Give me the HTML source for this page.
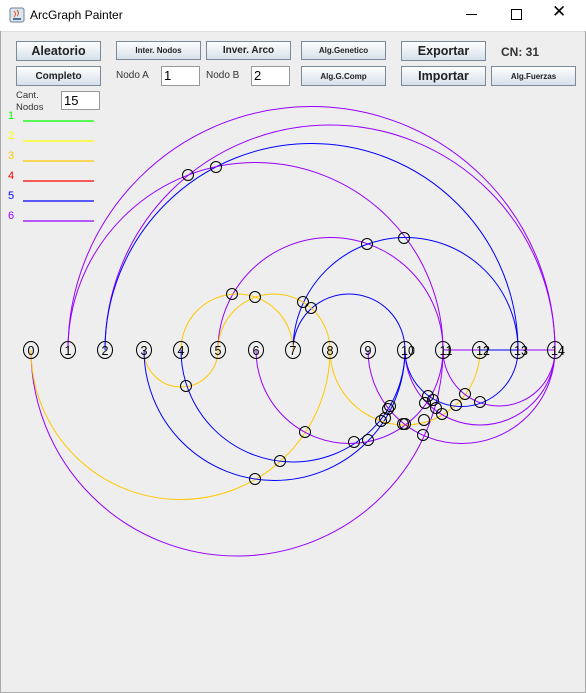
<!DOCTYPE html>
<html><head><style>
body{margin:0;width:586px;height:693px;overflow:hidden;background:#eeeeee;font-family:"Liberation Sans",sans-serif;position:relative}
.tb{position:absolute;left:0;top:0;width:586px;height:31px;background:#fff;border-bottom:1px solid #ddd}
.btn{position:absolute;height:18px;border:1px solid #7a8a99;background:linear-gradient(#fdfeff,#d6e0ea);font-weight:bold;font-size:8px;color:#222;display:flex;align-items:center;justify-content:center;box-sizing:border-box}
.big{font-size:12.5px}
.inp{position:absolute;background:#fff;border:1px solid #999;font-size:13px;box-sizing:border-box;padding-left:2px;line-height:17px}
.lbl{position:absolute;font-size:10px;color:#333}
.lg{position:absolute;font-size:11px}
</style></head><body>
<div class="tb">
<svg style="position:absolute;left:9px;top:7px" width="16" height="16"><rect x="1" y="1" width="14" height="14" rx="2" fill="#dde6ee" stroke="#6b7f96"/><path d="M5 4 q3 3 0 6 M8 3 q3 3 0 6" stroke="#d05a20" fill="none"/><rect x="4" y="11" width="8" height="2" fill="#4a6fa0"/></svg>
<div style="position:absolute;left:30px;top:8px;font-size:12px;color:#000">ArcGraph Painter</div>
<div style="position:absolute;left:466px;top:14px;width:11px;height:1px;background:#000"></div>
<div style="position:absolute;left:511px;top:9px;width:9px;height:9px;border:1px solid #000"></div>
<div style="position:absolute;left:552px;top:2px;font-size:17px;color:#000">✕</div>
</div>
<div style="position:absolute;left:0;top:31px;width:1px;height:662px;background:#aaa"></div>
<div style="position:absolute;left:585px;top:31px;width:1px;height:662px;background:#aaa"></div>
<div style="position:absolute;left:0;top:692px;width:586px;height:1px;background:#aaa"></div>

<div class="btn big" style="left:16px;top:41px;width:85px;height:20px">Aleatorio</div>
<div class="btn" style="left:116px;top:41px;width:85px;height:19px">Inter. Nodos</div>
<div class="btn" style="left:206px;top:41px;width:85px;height:19px;font-size:10px">Inver. Arco</div>
<div class="btn" style="left:301px;top:41px;width:85px;height:19px">Alg.Genetico</div>
<div class="btn big" style="left:401px;top:41px;width:85px;height:20px">Exportar</div>
<div style="position:absolute;left:501px;top:45px;font-size:12px;font-weight:bold;color:#333">CN: 31</div>
<div class="btn" style="left:16px;top:66px;width:85px;height:20px;font-size:10px">Completo</div>
<div class="lbl" style="left:116px;top:70px">Nodo A</div>
<div class="inp" style="left:161px;top:66px;width:39px;height:20px">1</div>
<div class="lbl" style="left:206px;top:70px">Nodo B</div>
<div class="inp" style="left:251px;top:66px;width:39px;height:20px">2</div>
<div class="btn" style="left:301px;top:66px;width:85px;height:20px">Alg.G.Comp</div>
<div class="btn big" style="left:401px;top:66px;width:85px;height:20px">Importar</div>
<div class="btn" style="left:491px;top:66px;width:85px;height:20px">Alg.Fuerzas</div>
<div class="lbl" style="left:16px;top:90px;font-size:9.5px;line-height:12px">Cant.<br>Nodos</div>
<div class="inp" style="left:61px;top:91px;width:39px;height:19px">15</div>

<div class="lg" style="left:8px;top:110px;color:#00ff00">1</div>
<div class="lg" style="left:8px;top:130px;color:#ffff00">2</div>
<div class="lg" style="left:8px;top:150px;color:#ffc800">3</div>
<div class="lg" style="left:8px;top:170px;color:#ff0000">4</div>
<div class="lg" style="left:8px;top:190px;color:#0000ff">5</div>
<div class="lg" style="left:8px;top:210px;color:#9600ff">6</div>

<svg style="position:absolute;left:0;top:0" width="586" height="693">
<g stroke-width="1.3">
<line x1="23" y1="121" x2="94" y2="121" stroke="#00ff00"/>
<line x1="23" y1="141" x2="94" y2="141" stroke="#ffff00"/>
<line x1="23" y1="161" x2="94" y2="161" stroke="#ffc800"/>
<line x1="23" y1="181" x2="94" y2="181" stroke="#ff0000"/>
<line x1="23" y1="201" x2="94" y2="201" stroke="#0000ff"/>
<line x1="23" y1="221" x2="94" y2="221" stroke="#9600ff"/>
</g>
<g fill="none" stroke-width="1">
<path d="M68 350 A243.5 243.5 0 0 1 555 350" stroke="#9600ff"/>
<path d="M105 350 A225 225 0 0 1 555 350" stroke="#9600ff"/>
<path d="M105 350 A206.5 206.5 0 0 1 518 350" stroke="#0000ff"/>
<path d="M68 350 A187.5 187.5 0 0 1 443 350" stroke="#9600ff"/>
<path d="M218 350 A112.5 112.5 0 0 1 443 350" stroke="#9600ff"/>
<path d="M293 350 A112.5 112.5 0 0 1 518 350" stroke="#0000ff"/>
<path d="M293 350 A56 56 0 0 1 405 350" stroke="#0000ff"/>
<path d="M181 350 A56 56 0 0 1 293 350" stroke="#ffc800"/>
<path d="M218 350 A56 56 0 0 1 330 350" stroke="#ffc800"/>
<line x1="443" y1="350" x2="555" y2="350" stroke="#9600ff"/>
<line x1="480" y1="350" x2="518" y2="350" stroke="#0000ff"/>
<path d="M144 350 A37 37 0 0 0 218 350" stroke="#ffc800"/>
<path d="M31 350 A206 206 0 0 0 443 350" stroke="#9600ff"/>
<path d="M31 350 A149.5 149.5 0 0 0 330 350" stroke="#ffc800"/>
<path d="M144 350 A130.5 130.5 0 0 0 405 350" stroke="#0000ff"/>
<path d="M181 350 A112 112 0 0 0 405 350" stroke="#0000ff"/>
<path d="M256 350 A93.5 93.5 0 0 0 443 350" stroke="#9600ff"/>
<path d="M330 350 A75 75 0 0 0 480 350" stroke="#ffc800"/>
<path d="M368 350 A93.5 93.5 0 0 0 555 350" stroke="#9600ff"/>
<path d="M405 350 A75 75 0 0 0 555 350" stroke="#9600ff"/>
<path d="M443 350 A56 56 0 0 0 555 350" stroke="#9600ff"/>
<path d="M405 350 A56.5 56.5 0 0 0 518 350" stroke="#0000ff"/>
</g>
<g fill="none" stroke="#000" stroke-width="1">
<circle cx="188" cy="175" r="5.5"/><circle cx="216" cy="167" r="5.5"/>
<circle cx="367" cy="244" r="5.5"/><circle cx="404" cy="238" r="5.5"/>
<circle cx="232" cy="294" r="5.5"/><circle cx="255" cy="297" r="5.5"/>
<circle cx="303" cy="302" r="5.5"/><circle cx="311" cy="308" r="5.5"/>
<circle cx="186" cy="386" r="5.5"/><circle cx="305" cy="432" r="5.5"/>
<circle cx="280" cy="461" r="5.5"/><circle cx="255" cy="479" r="5.5"/>
<circle cx="354" cy="442" r="5.5"/><circle cx="368" cy="440" r="5.5"/>
<circle cx="381" cy="421" r="5.5"/><circle cx="385" cy="418" r="5.5"/>
<circle cx="388" cy="409" r="5.5"/><circle cx="390" cy="406" r="5.5"/>
<circle cx="403" cy="424" r="5.5"/><circle cx="405" cy="424" r="5.5"/>
<circle cx="423" cy="435" r="5.5"/><circle cx="424" cy="420" r="5.5"/>
<circle cx="428" cy="396" r="5.5"/><circle cx="425" cy="403" r="5.5"/>
<circle cx="433" cy="400" r="5.5"/><circle cx="436" cy="408" r="5.5"/>
<circle cx="442" cy="414" r="5.5"/><circle cx="456" cy="405" r="5.5"/>
<circle cx="465" cy="394" r="5.5"/><circle cx="480" cy="402" r="5.5"/>
</g>
<g fill="none" stroke="#000" stroke-width="1">
<ellipse cx="31" cy="350" rx="7.5" ry="8.5"/><ellipse cx="68" cy="350" rx="7.5" ry="8.5"/><ellipse cx="105" cy="350" rx="7.5" ry="8.5"/>
<ellipse cx="144" cy="350" rx="7.5" ry="8.5"/><ellipse cx="181" cy="350" rx="7.5" ry="8.5"/><ellipse cx="218" cy="350" rx="7.5" ry="8.5"/>
<ellipse cx="256" cy="350" rx="7.5" ry="8.5"/><ellipse cx="293" cy="350" rx="7.5" ry="8.5"/><ellipse cx="330" cy="350" rx="7.5" ry="8.5"/>
<ellipse cx="368" cy="350" rx="7.5" ry="8.5"/><ellipse cx="405" cy="350" rx="7.5" ry="8.5"/><ellipse cx="443" cy="350" rx="7.5" ry="8.5"/>
<ellipse cx="480" cy="350" rx="7.5" ry="8.5"/><ellipse cx="518" cy="350" rx="7.5" ry="8.5"/><ellipse cx="555" cy="350" rx="7.5" ry="8.5"/>
</g>
<g font-family="Liberation Sans,sans-serif" font-size="12.5" fill="#000" text-anchor="middle">
<text x="31" y="355">0</text><text x="68" y="355">1</text><text x="105" y="355">2</text>
<text x="144" y="355">3</text><text x="181" y="355">4</text><text x="218" y="355">5</text>
<text x="256" y="355">6</text><text x="293" y="355">7</text><text x="330" y="355">8</text>
<text x="368" y="355">9</text><text x="408" y="355">10</text><text x="446" y="355">11</text>
<text x="483" y="355">12</text><text x="521" y="355">13</text><text x="558" y="355">14</text>
</g>
</svg>
</body></html>
